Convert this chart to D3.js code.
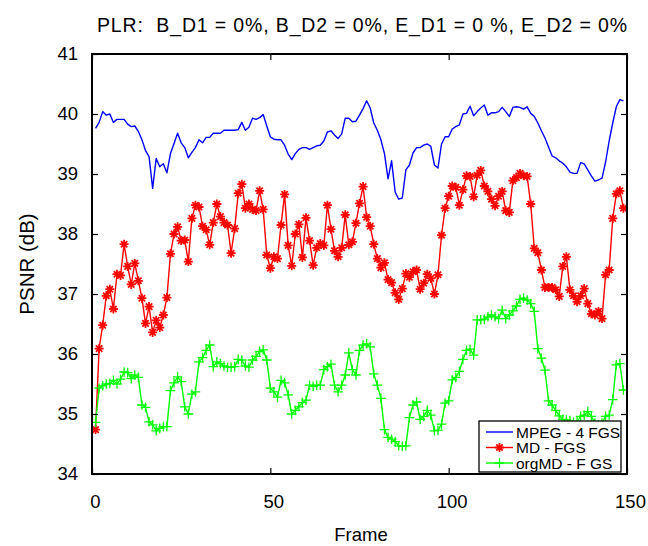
<!DOCTYPE html>
<html>
<head>
<meta charset="utf-8">
<script src="https://cdn.jsdelivr.net/npm/d3@7"></script>
<style>
  body { margin: 0; background: #fff; }
  svg { display: block; }
  text { font-family: "Liberation Sans", Arial, sans-serif; fill: #000; }
</style>
</head>
<body>
<svg id="chart" width="648" height="546"></svg>
<script>
// ---- data ----
const frames = d3.range(1, 150);
const mpeg4FGS = [39.76,39.86,40.04,39.98,40.0,39.86,39.91,39.91,39.91,39.83,39.79,39.8,39.71,39.57,39.39,39.29,38.76,39.26,39.12,39.17,39.02,39.34,39.51,39.68,39.52,39.44,39.27,39.36,39.44,39.57,39.52,39.61,39.61,39.68,39.68,39.68,39.73,39.73,39.73,39.73,39.74,39.86,39.73,39.78,39.93,39.91,39.94,39.99,39.8,39.62,39.58,39.57,39.57,39.48,39.33,39.24,39.34,39.41,39.44,39.44,39.41,39.44,39.47,39.48,39.55,39.7,39.72,39.65,39.59,39.67,39.93,39.93,39.87,39.88,39.98,40.09,40.22,40.1,39.85,39.73,39.57,39.34,38.92,39.22,38.7,38.58,38.6,39.07,39.15,39.35,39.44,39.44,39.48,39.5,39.46,39.15,39.1,39.5,39.62,39.62,39.75,39.79,39.82,40.0,40.01,40.13,39.97,40.04,40.1,40.15,39.98,40.02,40.02,40.04,40.11,40.04,39.96,40.11,40.12,40.11,40.08,40.12,40.01,39.96,39.85,39.72,39.6,39.45,39.3,39.27,39.22,39.18,39.12,39.03,39.01,39.01,39.19,39.17,39.07,38.97,38.88,38.9,38.93,39.2,39.55,39.85,40.12,40.24,40.22];
const mdFGS = [34.74,36.09,36.48,36.97,37.08,36.75,37.33,37.31,37.83,37.46,37.16,37.51,37.22,36.93,36.51,36.79,36.36,36.56,36.44,36.65,36.94,37.67,38.0,38.12,37.89,37.9,37.54,38.26,38.48,38.45,38.13,38.07,37.82,38.19,38.5,38.29,38.19,38.15,37.68,38.09,38.68,38.83,38.43,38.5,38.41,38.39,38.72,38.41,37.65,37.43,37.62,37.59,38.15,38.66,37.81,37.47,38.0,38.16,37.61,38.27,37.89,37.48,37.77,37.84,37.81,38.48,38.08,37.72,37.62,37.77,38.32,37.82,37.87,38.18,38.51,38.79,38.28,38.13,37.83,37.59,37.44,37.52,37.24,37.19,37.02,36.91,37.09,37.34,37.28,37.37,37.4,37.08,37.18,37.33,37.26,37.0,37.32,37.98,38.43,38.63,38.8,38.78,38.48,38.74,38.97,38.96,38.62,38.98,39.06,38.8,38.71,38.58,38.47,38.63,38.71,38.39,38.36,38.89,38.94,39.01,38.97,38.96,38.5,37.76,37.69,37.4,37.11,37.11,37.11,37.07,36.96,37.46,37.62,37.07,36.97,36.87,36.97,37.09,36.84,36.67,36.65,36.71,36.59,37.32,37.4,38.26,38.67,38.72,38.43];
const orgMDFGS = [34.86,35.43,35.47,35.5,35.51,35.56,35.5,35.58,35.7,35.69,35.59,35.65,35.61,35.15,35.11,34.87,34.82,34.72,34.76,34.79,34.79,35.39,35.52,35.62,35.54,35.12,35.0,35.33,35.37,35.87,35.94,36.06,36.15,35.79,35.87,35.84,35.8,35.78,35.78,35.79,35.91,35.9,35.8,35.78,35.9,35.96,36.04,36.07,35.9,35.43,35.37,35.28,35.56,35.52,35.32,35.0,35.06,35.12,35.19,35.23,35.48,35.46,35.48,35.48,35.74,35.79,35.83,35.48,35.37,35.48,35.65,36.02,35.74,35.65,36.06,36.15,36.17,36.12,35.67,35.48,35.26,34.74,34.61,34.58,34.54,34.47,34.46,34.47,34.94,35.15,35.2,34.91,34.96,35.06,34.98,34.72,34.73,34.83,35.18,35.22,35.57,35.61,35.71,35.91,36.06,36.08,35.98,36.57,36.57,36.58,36.62,36.65,36.62,36.59,36.73,36.59,36.65,36.72,36.8,36.91,36.93,36.9,36.84,36.71,36.09,35.93,35.73,35.22,35.15,35.06,34.97,34.91,34.9,34.89,34.86,34.87,34.96,34.98,35.04,34.96,34.85,34.82,34.85,34.96,34.98,35.24,35.82,35.84,35.4];
const xTicks = [0, 50, 100, 150];
const yTicks = [34, 35, 36, 37, 38, 39, 40, 41];
const seriesNames = ["MPEG - 4 FGS", "MD - FGS", "orgMD - F GS"];
const titleText = "PLR:  B_D1 = 0%, B_D2 = 0%, E_D1 = 0 %, E_D2 = 0%";
const xLabel = "Frame";
const yLabel = "PSNR (dB)";

// ---- layout ----
const L = 92, R = 627, T = 54, B = 474;
const svg = d3.select("#chart");
const x = d3.scaleLinear().domain([0, 150]).range([L, R]);
const y = d3.scaleLinear().domain([34, 41]).range([B, T]);

const series = [
  { name: seriesNames[0], values: mpeg4FGS, color: "#0000ff", marker: null },
  { name: seriesNames[1], values: mdFGS, color: "#ff0000", marker: "star" },
  { name: seriesNames[2], values: orgMDFGS, color: "#00ff00", marker: "plus" }
];

function markerPath(type, r) {
  if (type === "plus") return `M${-r},0H${r}M0,${-r}V${r}`;
  const d = r * 0.7071;
  return `M${-r},0H${r}M0,${-r}V${r}M${-d},${-d}L${d},${d}M${-d},${d}L${d},${-d}`;
}
const mSize = { star: 4.5, plus: 4.8 };
const mWidth = { star: 1.8, plus: 1.3 };

// clip
svg.append("defs").append("clipPath").attr("id", "clip")
  .append("rect").attr("x", L).attr("y", T).attr("width", R - L).attr("height", B - T);

const plot = svg.append("g").attr("clip-path", "url(#clip)");
const line = d3.line().x((d, i) => x(frames[i])).y(d => y(d));

series.forEach(s => {
  plot.append("path").datum(s.values)
    .attr("d", line).attr("fill", "none")
    .attr("stroke", s.color).attr("stroke-width", 1.4).attr("stroke-linejoin", "round");
  if (s.marker) {
    plot.append("g").selectAll("path").data(s.values).join("path")
      .attr("transform", (d, i) => `translate(${x(frames[i])},${y(d)})`)
      .attr("d", markerPath(s.marker, mSize[s.marker]))
      .attr("fill", "none").attr("stroke", s.color)
      .attr("stroke-width", mWidth[s.marker]);
  }
});

// axes
const fs = 18.5;
const gx = svg.append("g").attr("transform", `translate(0,${B})`)
  .call(d3.axisBottom(x).tickValues(xTicks).tickSizeInner(-6).tickSizeOuter(0).tickPadding(21).tickFormat(d3.format("d")));
const gxt = svg.append("g").attr("transform", `translate(0,${T})`)
  .call(d3.axisTop(x).tickValues(xTicks).tickSizeInner(-6).tickSizeOuter(0).tickFormat(""));
const gy = svg.append("g").attr("transform", `translate(${L},0)`)
  .call(d3.axisLeft(y).tickValues(yTicks).tickSizeInner(-6).tickSizeOuter(0).tickPadding(14).tickFormat(d3.format("d")));
const gyr = svg.append("g").attr("transform", `translate(${R},0)`)
  .call(d3.axisRight(y).tickValues(yTicks).tickSizeInner(-6).tickSizeOuter(0).tickFormat(""));
[gx, gxt, gy, gyr].forEach(g => {
  g.select(".domain").remove();
  g.selectAll(".tick line").attr("stroke", "#000").attr("stroke-width", 1.2);
  g.selectAll("text").attr("font-size", fs).attr("font-family", "Liberation Sans, Arial, sans-serif").attr("fill", "#000");
});
gx.selectAll("text").attr("dx", 3);
svg.append("rect").attr("x", L).attr("y", T).attr("width", R - L).attr("height", B - T)
  .attr("fill", "none").attr("stroke", "#000").attr("stroke-width", 2);

// labels
svg.append("text").attr("x", 361).attr("y", 541).attr("text-anchor", "middle")
  .attr("font-size", fs).text(xLabel);
svg.append("text").attr("transform", "translate(34,264) rotate(-90)").attr("text-anchor", "middle")
  .attr("font-size", 20.5).text(yLabel);
svg.append("text").attr("x", 97).attr("y", 32)
  .attr("font-size", 19.5).attr("xml:space", "preserve").style("white-space", "pre")
  .attr("textLength", 530).attr("lengthAdjust", "spacing").text(titleText);

// legend
const lg = svg.append("g");
lg.append("rect").attr("x", 479).attr("y", 421).attr("width", 142).attr("height", 51)
  .attr("fill", "#fff").attr("stroke", "#000").attr("stroke-width", 1.3);
series.forEach((s, i) => {
  const yy = 432 + i * 15.5;
  lg.append("line").attr("x1", 486).attr("x2", 513).attr("y1", yy).attr("y2", yy)
    .attr("stroke", s.color).attr("stroke-width", 1.4);
  if (s.marker) {
    lg.append("path").attr("transform", `translate(499.5,${yy})`)
      .attr("d", markerPath(s.marker, mSize[s.marker]))
      .attr("fill", "none").attr("stroke", s.color).attr("stroke-width", mWidth[s.marker]);
  }
  lg.append("text").attr("x", 516).attr("y", yy + 5.5).attr("font-size", 15.5).text(s.name);
});
</script>
</body>
</html>
